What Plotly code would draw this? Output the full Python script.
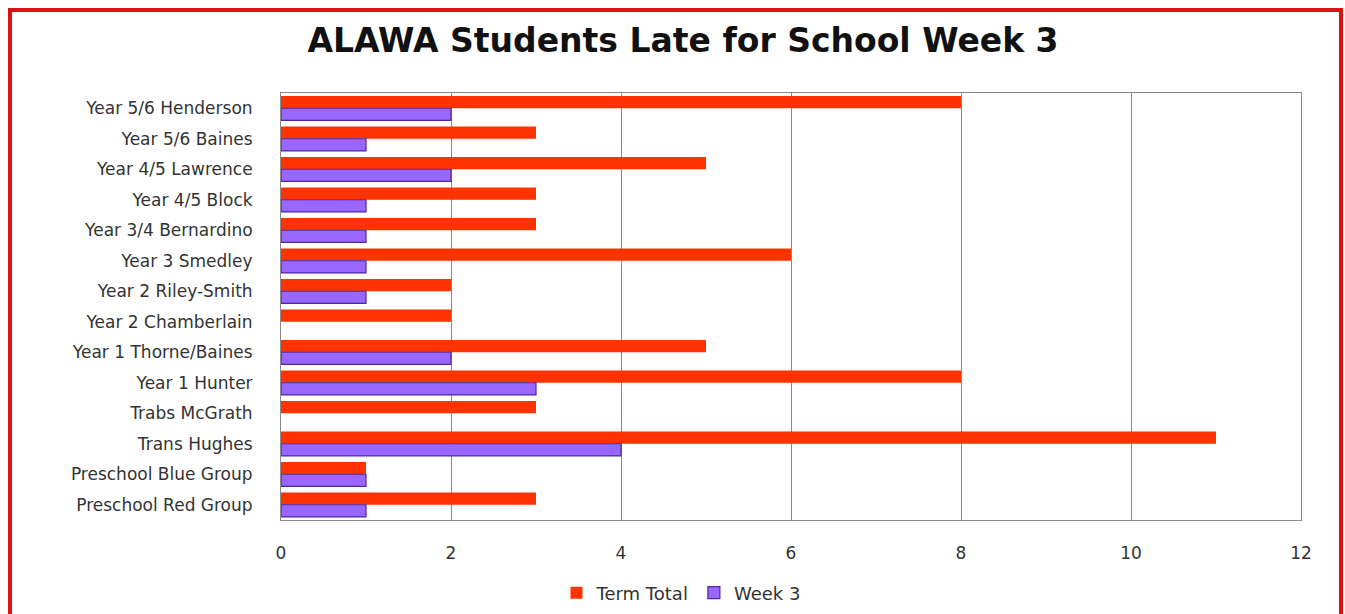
import plotly.graph_objects as go

categories = [
    "Year 5/6 Henderson", "Year 5/6 Baines", "Year 4/5 Lawrence", "Year 4/5 Block",
    "Year 3/4 Bernardino", "Year 3 Smedley", "Year 2 Riley-Smith", "Year 2 Chamberlain",
    "Year 1 Thorne/Baines", "Year 1 Hunter", "Trabs McGrath", "Trans Hughes",
    "Preschool Blue Group", "Preschool Red Group",
]
term_total = [8, 3, 5, 3, 3, 6, 2, 2, 5, 8, 3, 11, 1, 3]
week_3 = [2, 1, 2, 1, 1, 1, 1, 0, 2, 3, 0, 4, 1, 1]
x_ticks = [0, 2, 4, 6, 8, 10, 12]

W, H = 1345, 614
L, R, T, B = 281, 1301, 93, 520
FONT = "DejaVu Sans"

fig = go.Figure()
fig.add_trace(go.Bar(y=categories, x=term_total, orientation="h", name="Term Total",
                     marker=dict(color="#ff3300", line=dict(width=0))))
fig.add_trace(go.Bar(y=categories, x=week_3, orientation="h", name="Week 3",
                     marker=dict(color="#9966ff",
                                 line=dict(color="#4b2a99",
                                           width=[1.2 if v > 0 else 0 for v in week_3]))))

def px(x):
    return (x - L) / (R - L)

def py(y):
    return (B - y) / (B - T)

fig.update_layout(
    width=W, height=H, autosize=False,
    margin=dict(l=L, r=W - R, t=T, b=H - B, autoexpand=False),
    paper_bgcolor="white", plot_bgcolor="white",
    barmode="group", bargap=0.2, bargroupgap=0.0,
    title=dict(text="<b>ALAWA Students Late for School Week 3</b>", x=px(683), xanchor="center",
               xref="paper", y=1 - 40 / H, yanchor="middle",
               font=dict(family=FONT, size=33, color="#111")),
    font=dict(family=FONT, size=17, color="#333"),
    xaxis=dict(range=[0, 12], tickvals=x_ticks, showgrid=True, gridcolor="#8a8a8a",
               gridwidth=1, zeroline=False, showline=True, linecolor="#8a8a8a", mirror=True,
               ticks="", tickfont=dict(family=FONT, size=17, color="#333"),
               ticklabelstandoff=18),
    yaxis=dict(autorange="reversed", showline=True, linecolor="#8a8a8a", mirror=True,
               ticks="", tickfont=dict(family=FONT, size=17, color="#333"),
               ticklabelstandoff=24),
    legend=dict(orientation="h", x=px(681), xanchor="center",
                y=py(593), yanchor="middle",
                itemwidth=30, font=dict(family=FONT, size=18, color="#333")),
    shapes=[dict(type="rect", xref="paper", yref="paper",
                 x0=px(10), x1=px(1341), y0=py(640), y1=py(10),
                 line=dict(color="#dd1111", width=4), layer="above")],
)

fig.write_html("out.html", config={"displayModeBar": False},
               post_script="document.body.style.margin='0';")
